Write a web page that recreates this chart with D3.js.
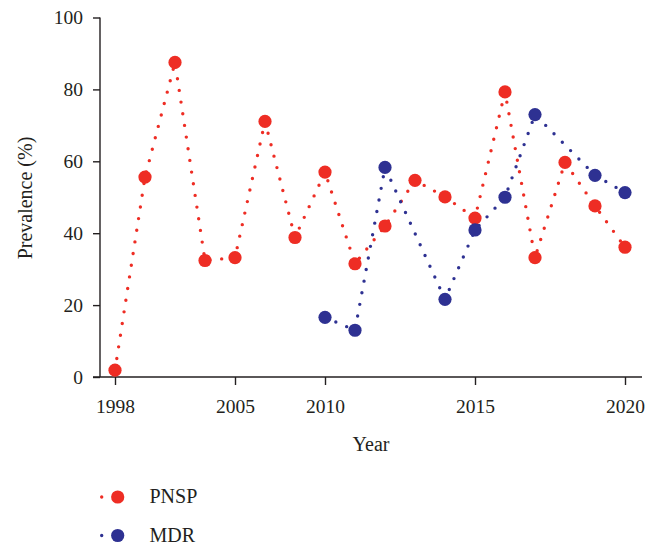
<!DOCTYPE html>
<html>
<head>
<meta charset="utf-8">
<script src="https://cdn.jsdelivr.net/npm/d3@7"></script>
<style>
  html, body { margin: 0; padding: 0; background: #fff; }
  svg { display: block; }
  text { font-family: "Liberation Serif", "DejaVu Serif", serif; fill: #231F20; }
</style>
</head>
<body>
<svg id="chart" width="658" height="548"></svg>
<script>
// Survey years along the x axis (point positions, equally spaced)
const years = ["1998", "2000", "2002", "2004", "2005", "2007", "2008", "2010", "2011",
               "2012", "2013", "2014", "2015", "2016", "2017", "2018", "2019", "2020"];
const xTickLabels = ["1998", "2005", "2010", "2015", "2020"];
const yTicks = [0, 20, 40, 60, 80, 100];

// Prevalence (%) of penicillin-nonsusceptible isolates
const pnspYears = years;
const pnspValues = [1.9, 55.6, 87.5, 32.4, 33.2, 71.1, 38.8, 57.0, 31.5,
                    42.0, 54.7, 50.1, 44.2, 79.3, 33.2, 59.7, 47.6, 36.1];

// Prevalence (%) of multidrug-resistant isolates
const mdrYears = ["2010", "2011", "2012", "2014", "2015", "2016", "2017", "2019", "2020"];
const mdrValues = [16.6, 13.0, 58.3, 21.6, 40.9, 50.0, 73.0, 56.1, 51.3];

const seriesNames = ["PNSP", "MDR"];
const colors = { PNSP: "#EE2D24", MDR: "#2E3192" };

const svg = d3.select("#chart");
const axisColor = "#231F20";

const x = d3.scalePoint().domain(years).range([115, 625]);
const y = d3.scaleLinear().domain([0, 100]).range([377, 17.5]);

// Y axis
const yAxis = svg.append("g").attr("transform", "translate(100,0)")
  .call(d3.axisLeft(y).tickValues(yTicks).tickSize(7).tickPadding(10));
yAxis.select(".domain").attr("d", `M0,${y(100)}V${y(0)}`);

// X axis
const xAxis = svg.append("g").attr("transform", `translate(0,${y(0)})`)
  .call(d3.axisBottom(x).tickValues(xTickLabels).tickSize(8).tickPadding(14));
xAxis.select(".domain").attr("d", "M93,0H642");

[yAxis, xAxis].forEach(g => {
  g.selectAll("path, line").attr("stroke", axisColor).attr("stroke-width", 1.4);
  g.selectAll("text").style("font-family", '"Liberation Serif", serif')
    .attr("font-size", 19.5).attr("fill", axisColor);
});

// Axis titles
svg.append("text")
  .attr("transform", "translate(32,198) rotate(-90)")
  .attr("text-anchor", "middle").attr("font-size", 20)
  .text("Prevalence (%)");
svg.append("text")
  .attr("x", 371).attr("y", 451)
  .attr("text-anchor", "middle").attr("font-size", 20)
  .text("Year");

// Series
const series = [
  { name: "PNSP", data: pnspYears.map((yr, i) => ({ yr, v: pnspValues[i] })) },
  { name: "MDR", data: mdrYears.map((yr, i) => ({ yr, v: mdrValues[i] })) }
];

const line = d3.line().x(d => x(d.yr)).y(d => y(d.v));

series.forEach(s => {
  const g = svg.append("g");
  g.append("path")
    .datum(s.data)
    .attr("d", line)
    .attr("fill", "none")
    .attr("stroke", colors[s.name])
    .attr("stroke-width", 3.4)
    .attr("stroke-linecap", "round")
    .attr("stroke-dasharray", "0 11.8");
  g.selectAll("circle")
    .data(s.data)
    .join("circle")
    .attr("cx", d => x(d.yr))
    .attr("cy", d => y(d.v))
    .attr("r", 6.6)
    .attr("fill", colors[s.name]);
});

// Legend
const legend = svg.append("g");
seriesNames.forEach((name, i) => {
  const cy = 497 + i * 38.5;
  const item = legend.append("g");
  item.append("line")
    .attr("x1", 101.7).attr("x2", 133.7).attr("y1", cy).attr("y2", cy)
    .attr("stroke", colors[name]).attr("stroke-width", 3.4)
    .attr("stroke-linecap", "round").attr("stroke-dasharray", "0 16");
  item.append("circle").attr("cx", 117.7).attr("cy", cy).attr("r", 6.6)
    .attr("fill", colors[name]);
  item.append("text").attr("x", 149.5).attr("y", cy + 6)
    .attr("font-size", 20).text(name);
});
</script>
</body>
</html>
